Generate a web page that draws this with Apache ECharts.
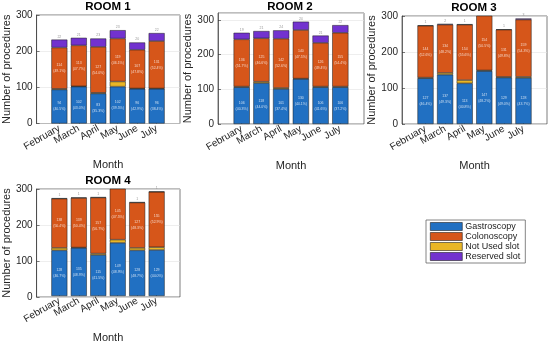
<!DOCTYPE html>
<html><head><meta charset="utf-8">
<script src="https://cdn.jsdelivr.net/npm/echarts@6/dist/echarts.min.js"></script>
<style>html,body{margin:0;padding:0;background:#fff}#c{width:550px;height:344px}</style>
</head><body><div id="c"></div>
<script>
const months = ['February','March','April','May','June','July'];
const seriesNames = ['Gastroscopy','Colonoscopy','Not Used slot','Reserved slot'];
const roomTitles = ['ROOM 1','ROOM 2','ROOM 3','ROOM 4'];
const yTicks = [0,100,200,300];

const room1Gastro   = [94, 102, 83, 102, 96, 96];
const room1NotUsed  = [2, 1, 2, 14, 1, 1];
const room1Colon    = [114, 113, 127, 119, 107, 131];
const room1Reserved = [22, 21, 23, 23, 20, 22];

const room2Gastro   = [106, 118, 101, 130, 106, 106];
const room2NotUsed  = [2, 4, 3, 1, 2, 2];
const room2Colon    = [136, 125, 142, 140, 126, 155];
const room2Reserved = [19, 21, 24, 24, 21, 22];

const room3Gastro   = [127, 137, 113, 147, 129, 128];
const room3NotUsed  = [2, 5, 9, 2, 2, 3];
const room3Colon    = [144, 134, 154, 154, 131, 159];
const room3Reserved = [1, 2, 1, 2, 1, 3];

const room4Gastro   = [128, 135, 115, 149, 128, 129];
const room4NotUsed  = [7, 1, 4, 9, 7, 8];
const room4Colon    = [138, 139, 157, 145, 127, 155];
const room4Reserved = [1, 1, 1, 2, 1, 1];

const rooms = [
  [room1Gastro, room1Colon, room1NotUsed, room1Reserved],
  [room2Gastro, room2Colon, room2NotUsed, room2Reserved],
  [room3Gastro, room3Colon, room3NotUsed, room3Reserved],
  [room4Gastro, room4Colon, room4NotUsed, room4Reserved]
];

const colors = ['#2170C2','#D6561A','#E9B626','#7232CF'];
const FONT = 'Liberation Sans, Arial, sans-serif';
// plot boxes
const boxes = [
  {left:36, top:15, width:144, height:108.5},
  {left:218, top:13, width:146, height:111},
  {left:402, top:16, width:145, height:108},
  {left:36, top:189, width:144, height:108}
];
const yMax = [300, 320, 300, 300];
const titleX = [108, 290, 474, 108];
const titleY = [1, 1, 2, 175];
const stackOrder = [0, 2, 1, 3]; // bottom to top
const XSPAN = 7.4, XPAD = 0.7;   // box spans 7.4 category widths, bars start 0.7 in

const barGrids = boxes.map(b=>{const s=b.width/XSPAN; return {left:b.left+XPAD*s, top:b.top, width:6*s, height:b.height};});

const axisCol = '#262626';
const option = {
  animation:false,
  backgroundColor:'#fff',
  textStyle:{fontFamily:FONT},
  title: roomTitles.map((t,i)=>({text:t, left:titleX[i], top:titleY[i], textAlign:'center', padding:0,
    textStyle:{fontFamily:FONT,fontSize:11.5,fontWeight:'bold',color:'#000'}})),
  legend:{
    orient:'vertical', left:426, top:220, itemWidth:32, itemHeight:8, itemGap:1,
    data:seriesNames, icon:'rect', borderColor:'#666', borderWidth:0.8, padding:[2,5,2,4],
    backgroundColor:'#fff',
    textStyle:{fontFamily:FONT,fontSize:9,color:'#222', padding:[0,0,0,-2]},
    itemStyle:{borderColor:'#222',borderWidth:0.6}
  },
  grid: boxes.map(g=>Object.assign({show:true, borderColor:axisCol, borderWidth:0.6, backgroundColor:'#fff'}, g))
        .concat(barGrids.map(g=>Object.assign({show:false}, g))),
  xAxis: boxes.map((g,i)=>({
    type:'value', gridIndex:i, min:0, max:1, show:true,
    axisLine:{show:false}, axisTick:{show:false}, axisLabel:{show:false}, splitLine:{show:false}
  })).concat(barGrids.map((g,i)=>({
    type:'category', gridIndex:4+i, data:months, boundaryGap:true,
    name:'Month', nameLocation:'middle', nameGap:36,
    nameTextStyle:{fontFamily:FONT,fontSize:11,color:axisCol},
    axisLine:{show:false},
    axisTick:{show:true,inside:true,length:3,alignWithLabel:true,lineStyle:{color:axisCol,width:0.6}},
    axisLabel:{interval:0, rotate:30, fontSize:10, color:axisCol, margin:4, fontFamily:FONT},
    splitLine:{show:false}
  }))),
  yAxis: boxes.map((g,i)=>({
    type:'value', gridIndex:i, min:0, max:yMax[i], interval:100,
    name:'Number of procedures', nameLocation:'middle', nameGap:20,
    nameTextStyle:{fontFamily:FONT,fontSize:11,color:axisCol},
    axisLine:{show:true,onZero:false,lineStyle:{color:axisCol,width:0.6}},
    axisTick:{show:true,inside:true,length:3,lineStyle:{color:axisCol,width:0.6}},
    axisLabel:{fontSize:10,color:axisCol,margin:4,fontFamily:FONT, showMaxLabel: yMax[i]===300,
      formatter:v=> yTicks.indexOf(v)>=0 ? String(v) : ''},
    splitLine:{show:true,lineStyle:{color:'#e2e2e2',width:0.6}}
  })).concat(barGrids.map((g,i)=>({
    type:'value', gridIndex:4+i, min:0, max:yMax[i], interval:100, show:false
  }))),
  series:[]
};

rooms.forEach((arr, r)=>{
  const totals = months.map((m,k)=>arr[0][k]+arr[1][k]+arr[2][k]+arr[3][k]);
  stackOrder.forEach(s=>{
    const vals = arr[s];
    let label = {show:false};
    if (s===0 || s===1) {
      label = {show:true, position:'inside', color:'rgba(255,255,255,0.75)', fontSize:3.5, lineHeight:6, fontFamily:FONT,
        formatter:p=>{const k=p.dataIndex; return vals[k]+'\n('+(vals[k]/totals[k]*100).toFixed(1)+'%)';}};
    } else if (s===3) {
      label = {show:true, position:'top', distance:1, color:'#999', fontSize:3.5, fontFamily:FONT,
        formatter:p=>String(vals[p.dataIndex])};
    }
    option.series.push({
      type:'bar', name:seriesNames[s], xAxisIndex:4+r, yAxisIndex:4+r, stack:'room'+r,
      barWidth:'82%', clip:true,
      itemStyle:{color:colors[s], borderColor:'#1a1a1a', borderWidth:0.5},
      label:label,
      data: vals
    });
  });
});

const chart = echarts.init(document.getElementById('c'), null, {renderer:'canvas'});
chart.setOption(option);
</script></body></html>
